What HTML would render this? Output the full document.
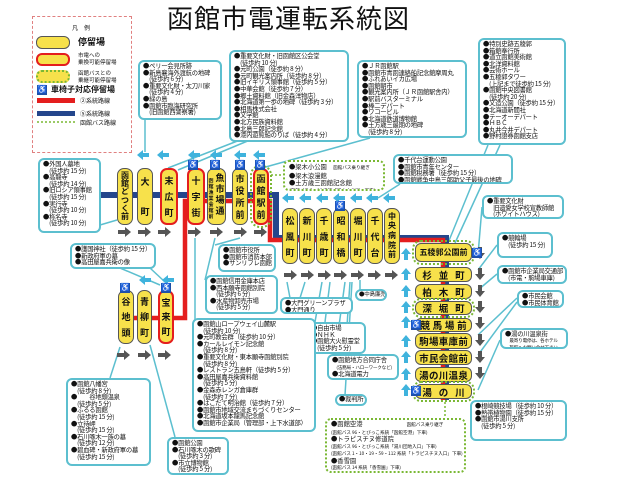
<!DOCTYPE html>
<html><head><meta charset="utf-8">
<style>
*{margin:0;padding:0;box-sizing:border-box}
body{width:621px;height:480px;background:#fff;position:relative;overflow:hidden;font-family:"Noto Sans CJK JP","Liberation Sans",sans-serif;color:#111}
.b{position:absolute;border:2px solid #5cbfcf;border-radius:6px;background:#fff;font-size:6.3px;line-height:6.6px;padding:1px 3px;white-space:nowrap;letter-spacing:-0.2px;overflow:hidden}
.g{position:absolute;border:2px dotted #7ab834;border-radius:6px;background:#fff;font-size:6.3px;line-height:7px;padding:1px 4px;white-space:nowrap;overflow:hidden}
.s{position:absolute;background:#f7e14b;border:1.5px solid #555;border-radius:7px;display:flex;flex-direction:column;justify-content:space-around;align-items:center;font-size:9px;font-weight:bold;line-height:9px;padding:3px 0}
.r{border:2.5px solid #e41e1e}
.gd{outline:2px dotted #7ab834;outline-offset:1px}
.h{position:absolute;background:#f7e14b;border:1.5px solid #555;border-radius:6px;font-size:9.5px;line-height:10px;font-weight:bold;display:flex;justify-content:space-around;align-items:center;padding:0 3px;white-space:nowrap}
.w{position:absolute;width:10px;height:10px;background:#1f4fa8;color:#fff;font-size:8px;line-height:10px;text-align:center}
.sm{font-size:4.6px}
</style></head><body>
<svg width="621" height="480" style="position:absolute;left:0;top:0">
<g stroke="#5cbfcf" stroke-width="1.5" fill="none">
<line x1="145" y1="120" x2="145" y2="152"/>
<line x1="240" y1="140" x2="168" y2="168"/><line x1="250" y1="140" x2="178" y2="170"/>
<line x1="370" y1="138" x2="262" y2="168"/>
<line x1="500" y1="145" x2="455" y2="243"/><line x1="488" y1="145" x2="448" y2="243"/>
<line x1="400" y1="184" x2="378" y2="198"/>
<line x1="100" y1="225" x2="117" y2="220"/>
<line x1="120" y1="268" x2="160" y2="285"/><line x1="150" y1="268" x2="165" y2="282"/>
<line x1="215" y1="245" x2="240" y2="238"/><line x1="205" y1="280" x2="215" y2="238"/>
<line x1="195" y1="320" x2="195" y2="238"/>
<line x1="290" y1="298" x2="287" y2="282"/><line x1="300" y1="298" x2="305" y2="282"/>
<line x1="315" y1="322" x2="322" y2="282"/><line x1="325" y1="322" x2="330" y2="282"/>
<line x1="335" y1="355" x2="345" y2="282"/><line x1="345" y1="355" x2="350" y2="282"/>
<line x1="345" y1="395" x2="352" y2="282"/>
<line x1="360" y1="290" x2="360" y2="280"/>
<line x1="110" y1="378" x2="120" y2="347"/><line x1="175" y1="437" x2="150" y2="345"/>
<line x1="482" y1="207" x2="478" y2="255"/>
<line x1="497" y1="245" x2="478" y2="270"/>
<line x1="497" y1="274" x2="478" y2="290"/>
<line x1="517" y1="298" x2="478" y2="335"/><line x1="517" y1="302" x2="478" y2="355"/>
<line x1="500" y1="340" x2="478" y2="390"/>
</g>
<line x1="281" y1="175" x2="270" y2="175" stroke="#7ab834" stroke-dasharray="2,2" stroke-width="1.5"/>
<line x1="445" y1="398" x2="445" y2="420" stroke="#7ab834" stroke-dasharray="2,2" stroke-width="1.5"/>
<g fill="none">
<polyline points="100,195 276,195 276,238 446,238 446,400" stroke="#24468c" stroke-width="6"/>
<polyline points="120,318 185,318 185,201 270,201 270,240 443,240 443,400" stroke="#e41e1e" stroke-width="4.5"/>
</g>
<rect x="37" y="98" width="38" height="5" fill="#e41e1e"/>
<rect x="37" y="111" width="38" height="5" fill="#24468c"/>
<line x1="37" y1="122" x2="75" y2="122" stroke="#7ab834" stroke-width="1.5" stroke-dasharray="2,2"/>
<defs>
<polygon id="ar" points="-6,-2 1,-2 1,-5 7,0 1,5 1,2 -6,2" fill="#555"/>
<polygon id="dn" points="-2,-6 2,-6 2,0 5,0 0,6 -5,0 -2,0" fill="#555"/>
<polygon id="la" points="6,-2 0,-2 0,-5 -6,0 0,5 0,2 6,2" fill="#3fb3dd"/>
<polygon id="ua" points="-2,6 -2,0 -5,0 0,-6 5,0 2,0 2,6" fill="#3fb3dd"/>
</defs>
<use href="#ar" x="124" y="232"/><use href="#ar" x="144" y="232"/><use href="#ar" x="164" y="232"/><use href="#ar" x="194" y="232"/><use href="#ar" x="216" y="232"/><use href="#ar" x="240" y="232"/><use href="#ar" x="260" y="232"/>
<use href="#ar" x="290" y="275"/><use href="#ar" x="307" y="275"/><use href="#ar" x="324" y="275"/><use href="#ar" x="340" y="275"/><use href="#ar" x="357" y="275"/><use href="#ar" x="374" y="275"/><use href="#ar" x="391" y="275"/>
<use href="#ar" x="123" y="355"/><use href="#ar" x="144" y="355"/><use href="#ar" x="164" y="355"/>
<use href="#dn" x="480" y="253"/><use href="#dn" x="480" y="274"/><use href="#dn" x="480" y="291"/><use href="#dn" x="480" y="307"/><use href="#dn" x="480" y="323"/><use href="#dn" x="480" y="340"/><use href="#dn" x="480" y="357"/><use href="#dn" x="480" y="373"/>
<use href="#la" x="143" y="155"/><use href="#la" x="163" y="155"/><use href="#la" x="194" y="155"/><use href="#la" x="216" y="155"/><use href="#la" x="240" y="155"/><use href="#la" x="259" y="155"/>
<use href="#la" x="288" y="198"/><use href="#la" x="305" y="198"/><use href="#la" x="322" y="198"/><use href="#la" x="339" y="198"/><use href="#la" x="356" y="198"/><use href="#la" x="372" y="198"/><use href="#la" x="389" y="198"/>
<use href="#la" x="145" y="280"/><use href="#la" x="168" y="280"/>
<use href="#ua" x="406" y="254"/><use href="#ua" x="406" y="274"/><use href="#ua" x="406" y="291"/><use href="#ua" x="406" y="307"/><use href="#ua" x="406" y="322"/><use href="#ua" x="406" y="341"/><use href="#ua" x="406" y="357"/><use href="#ua" x="406" y="374"/><use href="#ua" x="406" y="390"/>
</svg>

<div style="position:absolute;left:167px;top:3px;font-size:26px;line-height:30px;letter-spacing:1px">函館市電運転系統図</div>

<div style="position:absolute;left:32px;top:16px;width:100px;height:137px;border:1px dashed #e08080"></div>
<div style="position:absolute;left:72px;top:24px;font-size:6px;line-height:7px">凡　例</div>
<div style="position:absolute;left:36px;top:36px;width:34px;height:13px;background:#f7e14b;border:1.5px solid #555;border-radius:6px"></div>
<div style="position:absolute;left:78px;top:36px;font-size:9px;line-height:11px;font-weight:bold">停留場</div>
<div style="position:absolute;left:36px;top:53px;width:34px;height:13px;background:#f7e14b;border:2.5px solid #e41e1e;border-radius:6px"></div>
<div style="position:absolute;left:78px;top:52px;font-size:5.5px;line-height:7px">市電への<br>乗換可能停留場</div>
<div style="position:absolute;left:36px;top:70px;width:34px;height:13px;background:#f7e14b;border:2px dotted #7ab834;border-radius:6px"></div>
<div style="position:absolute;left:78px;top:70px;font-size:5.5px;line-height:7px">函館バスとの<br>乗継可能停留場</div>
<div class="w" style="left:37px;top:85px">♿</div>
<div style="position:absolute;left:51px;top:84px;font-size:8px;line-height:11px;font-weight:bold">車椅子対応停留場</div>
<div style="position:absolute;left:80px;top:97px;font-size:6px;line-height:7px">②系統路線</div>
<div style="position:absolute;left:80px;top:110px;font-size:6px;line-height:7px">⑤系統路線</div>
<div style="position:absolute;left:80px;top:119px;font-size:6px;line-height:7px">函館バス路線</div>

<div class="b" style="left:138px;top:60px;width:84px;height:60px">●ぺリー会見所跡<br>●新島襄海外渡航の地碑<br>　(徒歩約 6 分)<br>●重要文化財・太刀川家<br>　(徒歩約 4 分)<br>●緑の島<br>●函館市臨海研究所<br>　(旧函館西警察署)</div>
<div class="b" style="left:229px;top:50px;width:120px;height:92px">●重要文化財・旧函館区公会堂<br>　(徒歩約 10 分)<br>●元町公園（徒歩約 8 分）<br>●元町観光案内所（徒歩約 8 分）<br>●旧イギリス領事館（徒歩約 5 分）<br>●中華会館（徒歩約 7 分）<br>●郷土資料館（旧金森洋物店）<br>●北海道第一歩の地碑（徒歩約 3 分）<br>●相馬株式会社<br>●文学館<br>●北方民族資料館<br>●北島三郎記念館<br>●港内遊覧船のりば（徒歩約 4 分）</div>
<div class="b" style="left:357px;top:60px;width:110px;height:78px">●ＪＲ函館駅<br>●函館市青函連絡船記念館摩周丸<br>●ふれあいイカ広場<br>●函館朝市<br>●観光案内所（ＪＲ函館駅舎内）<br>●駅前バスターミナル<br>●棒二デパート<br>●ワコービル<br>●北海道鉄道博物館<br>●土方歳三最期の地碑<br>　(徒歩約 8 分)</div>
<div class="b" style="left:478px;top:38px;width:88px;height:107px">●特別史跡五稜郭<br>●箱館奉行所<br>●道立函館美術館<br>●北洋資料館<br>●芸術ホール<br>●五稜郭タワー<br>　(上記まで徒歩約 15 分)<br>●函館中央図書館<br>　(徒歩約 20 分)<br>●文造公園（徒歩約 15 分）<br>●北海道新聞社<br>●テーオーデパート<br>●ＨＢＣ<br>●丸井今井デパート<br>●野村證券函館支店</div>
<div class="b" style="left:38px;top:158px;width:63px;height:75px">●外国人墓地<br>　(徒歩約 15 分)<br>●高龍寺<br>　(徒歩約 14 分)<br>●旧ロシア領事館<br>　(徒歩約 15 分)<br>●実行寺<br>　(徒歩約 10 分)<br>●称名寺<br>　(徒歩約 10 分)</div>
<div class="g" style="left:283px;top:160px;width:102px;height:31px">●梁木小公園　<span class="sm">函館バス乗り継ぎ</span><br>●梁木浪漫館<br>●土方歳三函館記念館<br><span class="sm">(函館バス 3・96 系統「梁木小公園」下車)</span></div>
<div class="b" style="left:393px;top:154px;width:120px;height:30px">●千代台運動公園<br>●函館市青年センター<br>●函館税務署（徒歩約 15 分）<br>●函館戦争中島三郎助父子最後の地碑</div>
<div class="b" style="left:482px;top:195px;width:82px;height:24px">●重要文化財<br>　旧遺愛女学校宣教師館<br>　(ホワイトハウス)</div>
<div class="b" style="left:497px;top:232px;width:56px;height:26px">●競輪場<br>　(徒歩約 15 分)</div>
<div class="b" style="left:497px;top:265px;width:70px;height:19px">●函館市企業局交通部<br>　(市電・駒場車庫)</div>
<div class="b" style="left:517px;top:290px;width:47px;height:18px">●市民会館<br>●市民体育館</div>
<div class="b" style="left:500px;top:328px;width:68px;height:21px;line-height:5.5px">●湯の川温泉街<br><span class="sm">　最寄り電停は、各ホテル<br>　旅館へお問い合せ下さい。</span></div>
<div class="b" style="left:470px;top:400px;width:97px;height:41px">●根崎競技場（徒歩約 10 分）<br>●熱帯植物園（徒歩約 15 分）<br>●函館市湯川支所<br>　(徒歩約 5 分)</div>
<div class="g" style="left:325px;top:418px;width:141px;height:55px;line-height:6.5px">●函館空港　　　　　　　<span class="sm">函館バス乗り継ぎ</span><br><span class="sm">(函館バス 96・とびっこ系統「函館空港」下車)</span><br>●トラピスチヌ修道院<br><span class="sm">(函館バス 96・とびっこ系統「湯川団地入口」下車)</span><br><span class="sm">(函館バス 1・10・19・59・112 系統「トラピスチヌ入口」下車)</span><br>●香雪園<br><span class="sm">(函館バス 14 系統「香雪園」下車)</span></div>
<div class="b" style="left:335px;top:394px;width:32px;height:12px;padding:0 2px">●裁判所</div>
<div class="b" style="left:327px;top:354px;width:72px;height:26px">●函館地方合同庁舎<br><span class="sm">　(法務局・ハローワークなど)</span><br>●北海道電力</div>
<div class="b" style="left:306px;top:322px;width:60px;height:32px">●自由市場<br>●ＮＨＫ<br>●函館大火慰霊堂<br>　(徒歩約 5 分)</div>
<div class="b" style="left:355px;top:289px;width:32px;height:12px;padding:0 2px;font-size:5.5px">●中島廉売</div>
<div class="b" style="left:280px;top:297px;width:73px;height:17px;padding:1px 3px">●大門グリーンプラザ<br>●大門通り</div>
<div class="b" style="left:218px;top:244px;width:58px;height:28px">●函館市役所<br>●函館市消防本部<br>●サンリフレ函館</div>
<div class="b" style="left:205px;top:275px;width:73px;height:39px">●函館信用金庫本店<br>●西本願寺函館別院<br>　(徒歩約 6 分)<br>●水産物卸売市場<br>　(徒歩約 5 分)</div>
<div class="b" style="left:192px;top:318px;width:124px;height:114px;line-height:6.6px">●函館山ロープウェイ山麓駅<br>　(徒歩約 10 分)<br>●元町教会群（徒歩約 10 分）<br>●カールレイモン記念館<br>　(徒歩約 8 分)<br>●重要文化財・東本願寺函館別院<br>　(徒歩約 8 分)<br>●レストラン五島軒（徒歩約 5 分）<br>●高田屋嘉兵衛資料館<br>　(徒歩約 5 分)<br>●金森赤レンガ倉庫群<br>　(徒歩約 7 分)<br>●はこだて明治館（徒歩約 7 分）<br>●函館市地域交流まちづくりセンター<br>●北海道坂本龍馬記念館<br>●函館市企業局（管理部・上下水道部）</div>
<div class="b" style="left:70px;top:243px;width:86px;height:26px">●護国神社（徒歩約 15 分）<br>●新政府軍の墓<br>●高田屋嘉兵衛の像</div>
<div class="b" style="left:66px;top:378px;width:85px;height:88px">●函館八幡宮<br>　(徒歩約 8 分)<br>●　　谷地頭温泉<br>　(徒歩約 5 分)<br>●ふるる函館<br>　(徒歩約 15 分)<br>●立待岬<br>　(徒歩約 15 分)<br>●石川啄木一族の墓<br>　(徒歩約 12 分)<br>●碧血碑・新政府軍の墓<br>　(徒歩約 15 分)</div>
<div class="b" style="left:167px;top:437px;width:62px;height:38px">●函館公園<br>●石川啄木の歌碑<br>　(徒歩約 3 分)<br>●市立博物館<br>　(徒歩約 5 分)</div>

<div class="s" style="left:117px;top:168px;width:16px;height:57px;font-size:8px;line-height:8px"><span>函</span><span>館</span><span>ど</span><span>つ</span><span>く</span><span>前</span></div>
<div class="s" style="left:137px;top:168px;width:16px;height:57px"><span>大</span><span></span><span>町</span></div>
<div class="s r" style="left:160px;top:168px;width:18px;height:57px"><span>末</span><span>広</span><span>町</span></div>
<div class="s r" style="left:187px;top:168px;width:18px;height:57px"><span>十</span><span>字</span><span>街</span></div>
<div class="s" style="left:207px;top:168px;width:19px;height:57px;flex-direction:row;align-items:flex-start"><span style="font-size:5px;line-height:6px;width:6px;word-break:break-all;margin-top:6px">函館漁業会館前</span><span style="width:9px;line-height:11px">魚市場通</span></div>
<div class="s" style="left:232px;top:168px;width:16px;height:57px"><span>市</span><span>役</span><span>所</span><span>前</span></div>
<div class="s r gd" style="left:253px;top:168px;width:16px;height:57px"><span>函</span><span>館</span><span>駅</span><span>前</span></div>
<div class="w" style="left:188px;top:160px">♿</div><div class="w" style="left:210px;top:160px">♿</div><div class="w" style="left:235px;top:160px">♿</div><div class="w" style="left:255px;top:160px">♿</div>

<div class="s" style="left:282px;top:208px;width:16px;height:56px"><span>松</span><span>風</span><span>町</span></div>
<div class="s" style="left:299px;top:208px;width:16px;height:56px"><span>新</span><span>川</span><span>町</span></div>
<div class="s" style="left:316px;top:208px;width:16px;height:56px"><span>千</span><span>歳</span><span>町</span></div>
<div class="s" style="left:333px;top:208px;width:16px;height:56px"><span>昭</span><span>和</span><span>橋</span></div>
<div class="s" style="left:350px;top:208px;width:16px;height:56px"><span>堀</span><span>川</span><span>町</span></div>
<div class="s" style="left:367px;top:208px;width:16px;height:56px"><span>千</span><span>代</span><span>台</span></div>
<div class="s" style="left:384px;top:208px;width:16px;height:56px;font-size:8px;line-height:8px"><span>中</span><span>央</span><span>病</span><span>院</span><span>前</span></div>
<div class="w" style="left:335px;top:201px">♿</div>

<div class="s" style="left:118px;top:290px;width:16px;height:54px"><span>谷</span><span>地</span><span>頭</span></div>
<div class="s" style="left:137px;top:290px;width:15px;height:54px"><span>青</span><span>柳</span><span>町</span></div>
<div class="s r" style="left:158px;top:290px;width:16px;height:54px"><span>宝</span><span>来</span><span>町</span></div>
<div class="w" style="left:120px;top:283px">♿</div><div class="w" style="left:161px;top:283px">♿</div>

<div class="h gd" style="left:415px;top:243px;width:57px;height:19px;font-size:8px;padding:0 1px">五稜郭公園前</div>
<div class="h" style="left:415px;top:267px;width:57px;height:15px"><span>杉</span><span>並</span><span>町</span></div>
<div class="h" style="left:415px;top:284px;width:57px;height:15px"><span>柏</span><span>木</span><span>町</span></div>
<div class="h gd" style="left:415px;top:301px;width:57px;height:14px"><span>深</span><span>堀</span><span>町</span></div>
<div class="h" style="left:415px;top:318px;width:57px;height:14px"><span>競</span><span>馬</span><span>場</span><span>前</span></div>
<div class="h r" style="left:415px;top:333px;width:57px;height:16px"><span>駒</span><span>場</span><span>車</span><span>庫</span><span>前</span></div>
<div class="h" style="left:415px;top:350px;width:57px;height:15px"><span>市</span><span>民</span><span>会</span><span>館</span><span>前</span></div>
<div class="h" style="left:415px;top:367px;width:57px;height:15px"><span>湯</span><span>の</span><span>川</span><span>温</span><span>泉</span></div>
<div class="h gd" style="left:415px;top:384px;width:57px;height:15px"><span>湯</span><span>の</span><span>川</span></div>
<div class="w" style="left:472px;top:248px">♿</div><div class="w" style="left:411px;top:320px">♿</div><div class="w" style="left:411px;top:386px">♿</div>
</body></html>
